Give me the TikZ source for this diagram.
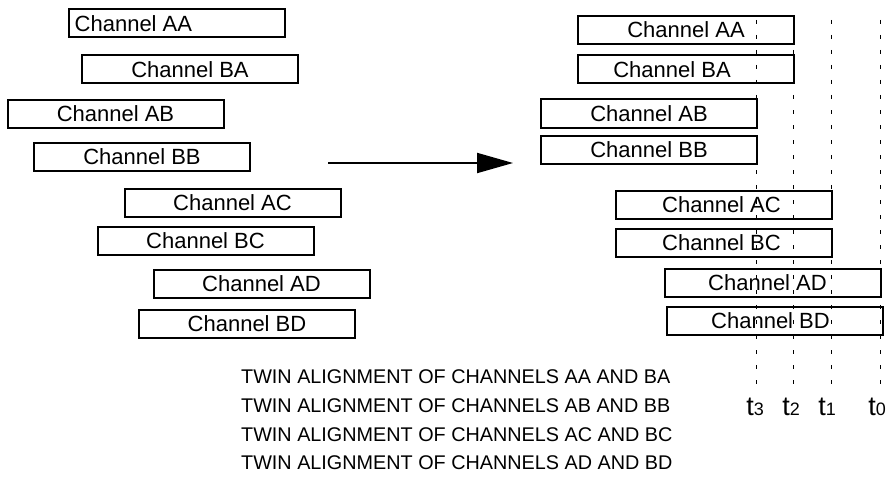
\documentclass[tikz,border=0pt]{standalone}
\usepackage{fontspec}
\setmainfont{Liberation Sans}
\usetikzlibrary{arrows.meta}
\tikzset{
  chbox/.style={draw, line width=2pt, minimum width=216pt, minimum height=28pt, inner sep=0pt},
  chtext/.style={font=\fontsize{22}{24}\selectfont, inner sep=0pt},
  tline/.style={line width=1pt, dash pattern=on 4pt off 11pt},
  twin/.style={font=\fontsize{19.8}{22}\selectfont, inner sep=0pt, anchor=base west},
  tlab/.style={font=\fontsize{27}{28}\selectfont, inner sep=0pt, anchor=base},
  bigarrow/.style={line width=2pt, -{Triangle[length=36pt,width=20pt]}}
}
\newcommand{\tsub}[1]{t{\fontsize{18}{19}\selectfont #1}}
\begin{document}
\begin{tikzpicture}[x=1pt,y=-1pt]
\useasboundingbox (0,0) rectangle (890,476);
% left column
\node[chbox, label={[chtext,anchor=west,xshift=7pt]west:Channel AA}] (lAA) at (176.5,23.5) {};
\node[chbox, label={[chtext]center:Channel BA}] (lBA) at (190,69.5) {};
\node[chbox, label={[chtext]center:Channel AB}] (lAB) at (115.5,114) {};
\node[chbox, label={[chtext]center:Channel BB}] (lBB) at (142,157) {};
\node[chbox, label={[chtext]center:Channel AC}] (lAC) at (232.5,202.5) {};
\node[chbox, label={[chtext]center:Channel BC}] (lBC) at (205.5,241) {};
\node[chbox, label={[chtext]center:Channel AD}] (lAD) at (261.5,284) {};
\node[chbox, label={[chtext]center:Channel BD}] (lBD) at (247,323.5) {};
% right column
\node[chbox, label={[chtext]center:Channel AA}] (rAA) at (686,30) {};
\node[chbox, label={[chtext,xshift=-14pt]center:Channel BA}] (rBA) at (686,69.5) {};
\node[chbox, label={[chtext]center:Channel AB}] (rAB) at (649,113.5) {};
\node[chbox, label={[chtext]center:Channel BB}] (rBB) at (649,149.5) {};
\node[chbox, label={[chtext,xshift=-2pt]center:Channel AC}] (rAC) at (723.5,205) {};
\node[chbox, label={[chtext,xshift=-2pt]center:Channel BC}] (rBC) at (723.5,243) {};
\node[chbox, label={[chtext,xshift=-5pt]center:Channel AD}] (rAD) at (772.5,282.5) {};
\node[chbox, label={[chtext,xshift=-4pt]center:Channel BD}] (rBD) at (774.5,320.5) {};
% arrow
\coordinate (arrS) at (328,163);
\coordinate (arrE) at (513,163);
\draw[bigarrow] (arrS) -- (arrE);
% time lines
\foreach \n/\x in {3/756,2/793,1/831,0/880}{
  \coordinate (t\n top) at (\x,20);
  \coordinate (t\n bot) at (\x,386);
  \draw[tline] (t\n top) -- (t\n bot);
}
\node[tlab] (lab3) at (755,415) {\tsub{3}};
\node[tlab] (lab2) at (791,415) {\tsub{2}};
\node[tlab] (lab1) at (827,415) {\tsub{1}};
\node[tlab] (lab0) at (877,415) {\tsub{0}};
% captions
\node[twin] (cap1) at (241,383) {TWIN ALIGNMENT OF CHANNELS AA AND BA};
\node[twin] (cap2) at (241,412) {TWIN ALIGNMENT OF CHANNELS AB AND BB};
\node[twin] (cap3) at (241,441) {TWIN ALIGNMENT OF CHANNELS AC AND BC};
\node[twin] (cap4) at (241,469) {TWIN ALIGNMENT OF CHANNELS AD AND BD};
\end{tikzpicture}
\end{document}
